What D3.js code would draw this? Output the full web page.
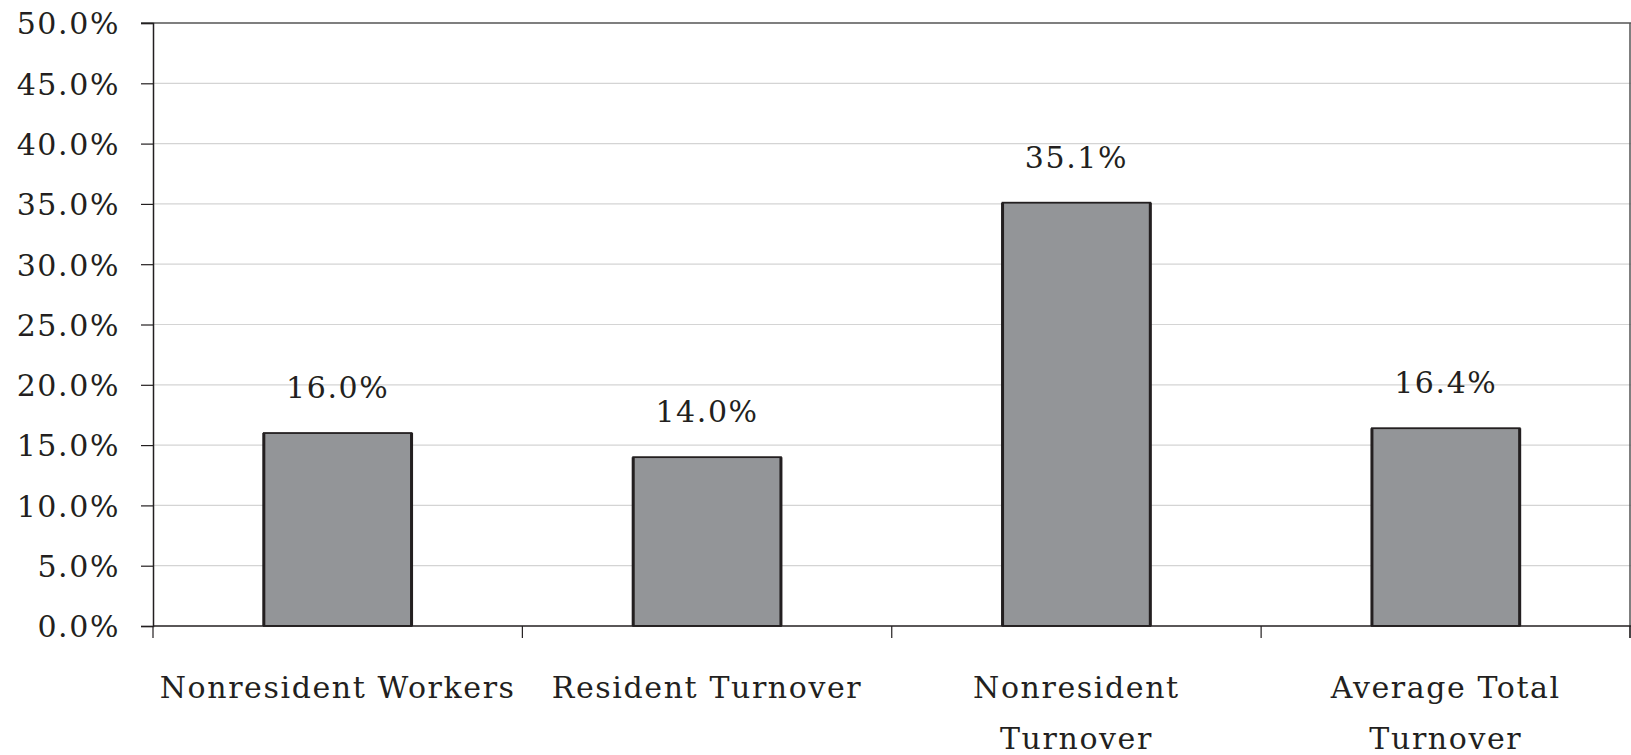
<!DOCTYPE html>
<html><head><meta charset="utf-8">
<script src="https://cdn.jsdelivr.net/npm/d3@7"></script>
<style>html,body{margin:0;padding:0;background:#fff;overflow:hidden}</style>
</head><body>
<svg id="c" width="1631" height="755"></svg>
<script>
const categories = ["Nonresident Workers", "Resident Turnover", "Nonresident\nTurnover", "Average Total\nTurnover"];
const values = [16.0, 14.0, 35.1, 16.4];
const valueLabels = ["16.0%", "14.0%", "35.1%", "16.4%"];
const yTicks = [0, 5, 10, 15, 20, 25, 30, 35, 40, 45, 50];

const W = 1631, H = 755;
const m = {left: 153, right: 0.5, top: 23, bottom: 129};
const svg = d3.select("#c");
const font = "'DejaVu Serif', serif";
const ink = "#231f20";
const fs = 30;
const ls = "1.6px";

const x = d3.scaleBand().domain(categories).range([m.left, W - m.right]).paddingInner(0.6).paddingOuter(0.3);
const y = d3.scaleLinear().domain([0, 50]).range([H - m.bottom, m.top]);

// gridlines
svg.append("g").selectAll("line").data(yTicks.filter(d => d > 0 && d < 50)).join("line")
  .attr("x1", m.left).attr("x2", W).attr("y1", d => y(d)).attr("y2", d => y(d))
  .attr("stroke", "#d4d4d4").attr("stroke-width", 1.2);

// top & right border
svg.append("line").attr("x1", m.left - 12).attr("x2", W).attr("y1", y(50)).attr("y2", y(50)).attr("stroke", "#555").attr("stroke-width", 1.5);
svg.append("line").attr("x1", W - 1).attr("x2", W - 1).attr("y1", y(50)).attr("y2", y(0) + 12).attr("stroke", "#555").attr("stroke-width", 1.5);

// bars
const bars = svg.append("g").selectAll("g").data(values).join("g");
bars.append("rect")
  .attr("x", (d, i) => x(categories[i])).attr("width", x.bandwidth())
  .attr("y", d => y(d)).attr("height", d => y(0) - y(d))
  .attr("fill", "#939598").attr("stroke", ink).attr("stroke-width", 1.8);
bars.append("path")
  .attr("d", (d, i) => {
    const x0 = x(categories[i]), x1 = x0 + x.bandwidth();
    return `M${x0},${y(0)}V${y(d)}M${x1},${y(d)}V${y(0)}`;
  })
  .attr("fill", "none").attr("stroke", ink).attr("stroke-width", 3);

// y axis
const yAxis = d3.axisLeft(y).tickValues(yTicks).tickSize(12).tickPadding(21).tickFormat(d => d3.format(".1f")(d) + "%");
const gy = svg.append("g").attr("transform", `translate(${m.left},0)`).call(yAxis);
gy.select(".domain").attr("stroke", ink).attr("stroke-width", 1.5);
gy.selectAll(".tick line").attr("stroke", ink).attr("stroke-width", 1.2);
gy.selectAll(".tick text").attr("font-family", font).attr("font-size", fs).attr("fill", ink).attr("letter-spacing", ls).attr("dy", "0.36em");

// x axis baseline and boundary ticks
const bounds = categories.map(c => x(c) - x.step() * x.paddingInner() / 2);
bounds[0] = m.left;
bounds.push(W - 1);
svg.append("line").attr("x1", m.left).attr("x2", W).attr("y1", y(0)).attr("y2", y(0)).attr("stroke", ink).attr("stroke-width", 1.5);
svg.append("g").selectAll("line").data(bounds).join("line")
  .attr("x1", d => d).attr("x2", d => d).attr("y1", y(0)).attr("y2", y(0) + 12)
  .attr("stroke", ink).attr("stroke-width", 1.2);

// x labels
const xl = svg.append("g").selectAll("text").data(categories).join("text")
  .attr("x", d => x(d) + x.bandwidth() / 2).attr("y", y(0) + 72)
  .attr("text-anchor", "middle").attr("font-family", font).attr("font-size", fs).attr("fill", ink).attr("letter-spacing", ls);
xl.each(function(d) {
  const t = d3.select(this);
  d.split("\n").forEach((ln, i) => {
    t.append("tspan").attr("x", t.attr("x")).attr("dy", i === 0 ? 0 : 51).text(ln);
  });
});

// value labels
svg.append("g").selectAll("text").data(values).join("text")
  .attr("x", (d, i) => x(categories[i]) + x.bandwidth() / 2).attr("y", d => y(d) - 35)
  .attr("text-anchor", "middle").attr("font-family", font).attr("font-size", fs).attr("fill", ink).attr("letter-spacing", ls)
  .text((d, i) => valueLabels[i]);
</script>
</body></html>
